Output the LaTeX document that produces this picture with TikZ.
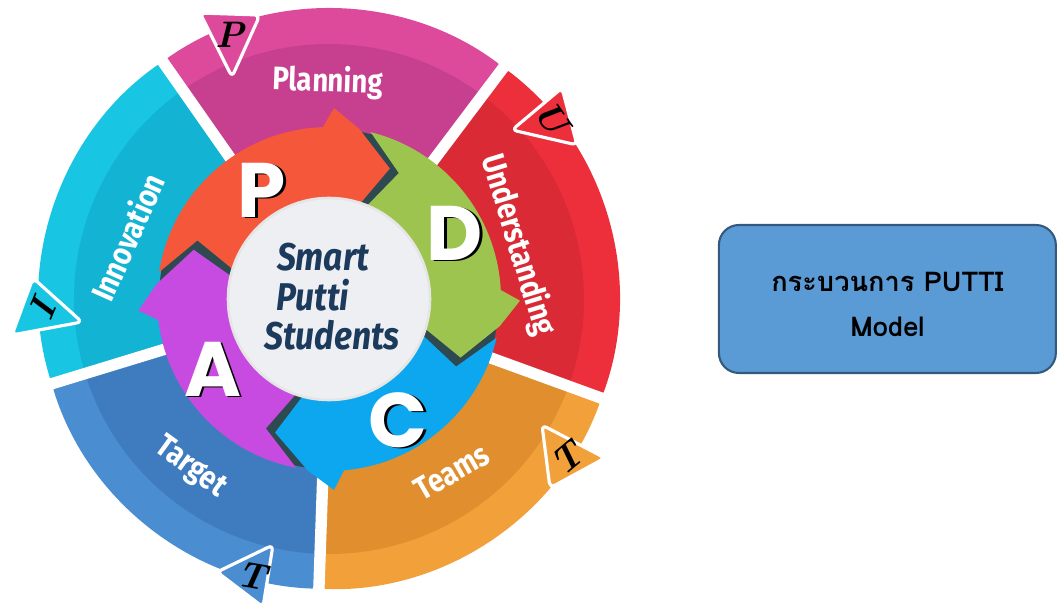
\documentclass[tikz,border=0pt]{standalone}
\usepackage{fontspec}
\usepackage{tikz}
\usetikzlibrary{positioning}
\newfontfamily\segfont[FakeStretch=0.85]{Fira Sans}
\newfontfamily\hubfont[FakeStretch=0.87]{Fira Sans}
\newfontfamily\pdcafont{Poppins}
\newfontfamily\thaifont[Script=Thai]{Loma}
\definecolor{PlanLight}{HTML}{DD4A9C}
\definecolor{PlanDark}{HTML}{C7408F}
\definecolor{UndLight}{HTML}{EC2F3B}
\definecolor{UndDark}{HTML}{D92A35}
\definecolor{TeamLight}{HTML}{F2A03A}
\definecolor{TeamDark}{HTML}{E08E2E}
\definecolor{TargLight}{HTML}{4A8DD0}
\definecolor{TargDark}{HTML}{3F7CBF}
\definecolor{InnoLight}{HTML}{18C5E2}
\definecolor{InnoDark}{HTML}{12B3D3}
\definecolor{RingP}{HTML}{F5573B}
\definecolor{RingD}{HTML}{9CC44E}
\definecolor{RingC}{HTML}{0CA7EE}
\definecolor{RingA}{HTML}{C74BE0}
\definecolor{RingShadow}{HTML}{2E4A50}
\definecolor{HubFill}{HTML}{EDEFF2}
\definecolor{HubText}{HTML}{1B3A5C}
\definecolor{BoxBlue}{HTML}{5B9BD5}
\definecolor{BoxEdge}{HTML}{34597C}
\tikzstyle{SegLabel} = [text=white, inner sep=0pt, font=\segfont\bfseries\fontsize{18.5}{18.5}\selectfont]
\tikzstyle{Tag} = [draw=white, line width=1.8pt, rounded corners=3pt]
\tikzstyle{TagLetter} = [inner sep=0pt, text=black, font=\fontsize{21}{21}\selectfont\bfseries\itshape]
\tikzstyle{RingLetter} = [inner sep=0pt, font=\pdcafont\bfseries\fontsize{44}{44}\selectfont]
\tikzstyle{HubLine} = [inner sep=0pt, text=HubText, font=\hubfont\bfseries\itshape\fontsize{22}{22}\selectfont]
\tikzstyle{Hub} = [circle, fill=HubFill, draw=black!10, line width=1.5pt, minimum size=4.04cm, inner sep=0pt, outer sep=0pt]
\tikzstyle{ModelBox} = [rectangle, rounded corners=0.4cm, minimum width=6.74cm, minimum height=2.96cm, fill=BoxBlue, draw=BoxEdge, line width=1.2pt, outer sep=0pt, align=center, font=\thaifont\bfseries\fontsize{15.5}{26}\selectfont]

\begin{document}
\begin{tikzpicture}[x=0.02cm, y=0.02cm]
    \useasboundingbox (-329,-309) rectangle (729,299);

    %%%%%%%%%%%%%%%%%%%%%%
    % outer segments
    \foreach \a/\b/\light/\dark in {125/53/PlanLight/PlanDark, 53/-20/UndLight/UndDark, -20/-92/TeamLight/TeamDark, -92/-163/TargLight/TargDark, 197/125/InnoLight/InnoDark}
    {
        \fill[\light, rounded corners=4pt] (\a:150) -- (\a:290) arc[start angle=\a, end angle=\b, radius=290] -- (\b:150) -- cycle;
        \fill[\dark] (\a:150) -- (\a:255) arc[start angle=\a, end angle=\b, radius=255] -- (\b:150) -- cycle;
    }
    \foreach \g in {125, 53, -20, -92, 197}
        \draw[white, line width=6.5pt] (\g:140) -- (\g:305);

    \node[SegLabel, rotate=-2] (planning) at (-1,217) {Planning};
    \node[SegLabel, rotate=-73] (understanding) at (189,54) {Understanding};
    \node[SegLabel, rotate=30] (teams) at (123,-173) {Teams};
    \node[SegLabel, rotate=-36] (target) at (-139,-169) {Target};
    \node[SegLabel, rotate=66] (innovation) at (-202,62) {Innovation};

    %%%%%%%%%%%%%%%%%%%%%%
    % letter tags
    \filldraw[Tag, fill=PlanLight] (-129,286) -- (-69,284) -- (-97,222) -- cycle;
    \node[TagLetter] (tagP) at (-99,264) {P};
    \filldraw[Tag, fill=UndLight] (233,211) -- (183,169) -- (248,154) -- cycle;
    \node[TagLetter, rotate=-55] (tagU) at (223,181) {U};
    \filldraw[Tag, fill=TeamLight] (213,-126) -- (276,-159) -- (221,-189) -- cycle;
    \node[TagLetter, rotate=40] (tagTa) at (238,-160) {T};
    \filldraw[Tag, fill=TargLight] (-56,-246) -- (-112,-273) -- (-66,-308) -- cycle;
    \node[TagLetter, rotate=-10] (tagTb) at (-77,-277) {T};
    \filldraw[Tag, fill=InnoLight] (-296,21) -- (-247,-23) -- (-317,-36) -- cycle;
    \node[TagLetter, rotate=67] (tagI) at (-287,-11) {I};

    %%%%%%%%%%%%%%%%%%%%%%
    % PDCA ring
    \fill[RingShadow] (0,0) circle[radius=170];
    \foreach \t/\h/\col in {160/65/RingP, 65/-24/RingD, -24/-112/RingC, 248/160/RingA}
        \fill[\col] ({\t+3}:100) -- ({\t-4}:144) -- ({\t+11}:172) arc[start angle={\t+11}, end angle={\h+27}, radius=172] -- ({\h+23.5}:191) -- ({\h+15}:173) -- (\h:144) -- ({\h+7}:100) arc[start angle={\h+7}, end angle={\t+3}, radius=100] -- cycle;

    \foreach \pos/\l in {{(-67,109)}/P, {(126,66)}/D, {(69,-121)}/C, {(-116,-70)}/A}
    {
        \node[RingLetter, text=black, xshift=1.4pt, yshift=-0.8pt] at \pos {\l};
        \node[RingLetter, text=white] (ring\l) at \pos {\l};
    }

    %%%%%%%%%%%%%%%%%%%%%%
    \node[Hub] (hub) at (0,0) {};
    \node[HubLine] (smart) at (-6,42) {Smart};
    \node[HubLine] (putti) at (-16,4) {Putti};
    \node[HubLine] (students) at (3,-36) {Students};

    \node[ModelBox] (model) [right=5.78cm of hub] {\rule{0pt}{17pt}กระบวนการ PUTTI\\Model};

\end{tikzpicture}
\end{document}
